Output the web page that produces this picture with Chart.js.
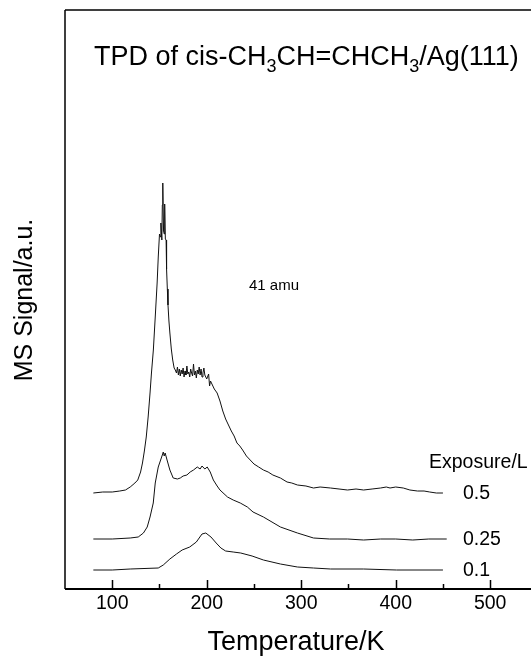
<!DOCTYPE html>
<html>
<head>
<meta charset="utf-8">
<script src="https://cdn.jsdelivr.net/npm/chart.js@4.4.0/dist/chart.umd.min.js"></script>
<style>
  html, body { margin: 0; padding: 0; background: #fff; overflow: hidden; }
  canvas { display: block; }
</style>
</head>
<body>
<canvas id="tpdChart" width="560" height="656"></canvas>
<script>
// temperatures (K) and MS signal (a.u.), one pair of arrays per exposure
const temp05 = [80, 90, 100, 108, 114, 119, 124, 127, 130, 132, 134, 136, 138, 140, 141.5, 143.5, 145.5, 147.5, 148.7, 150,
  151, 151.5, 152.5, 153, 153.5, 154.3, 155, 155.5, 156.2, 157, 157.5, 158.3, 159, 160, 161, 162.5, 164, 165.5, 166.7,
  168, 169, 170, 171, 172, 173, 174, 175, 176, 177, 178, 179, 180, 181, 182, 183, 184, 185, 186, 187, 188, 189, 190,
  191, 192, 193, 194, 195, 196, 197, 198, 200, 202, 203, 204, 206, 208, 211, 214, 217, 220, 223, 226, 229, 232, 235,
  238, 242, 246, 250, 255, 260, 265, 270, 278, 285, 290, 296, 305, 313, 320, 331, 340, 349, 358, 366, 375, 384, 390,
  394, 400, 408, 415, 423, 430, 436, 443, 450];
const sig05 = [96, 97, 97, 98, 99, 102, 106, 109, 117, 126, 138, 152, 172, 196, 216, 239, 272, 306, 332, 355,
  352, 366, 349, 384, 406, 358, 355, 385, 350, 349, 320, 300, 284, 268, 256, 240, 229, 221, 219,
  216, 222, 214, 220, 213, 219, 215, 221, 212, 218, 214, 223, 215, 217, 212, 220, 216, 213, 225, 214, 218, 211, 219,
  215, 222, 214, 220, 212, 216, 221, 214, 210, 215, 203, 208, 204, 200, 196, 188, 178, 170, 164, 158, 153, 146, 143,
  139, 133, 129, 125, 122, 119, 117, 114, 111, 107, 106, 104, 103, 101, 102, 101, 100, 99, 100, 99, 100, 101, 102,
  101, 102, 101, 99, 98, 98, 97, 96, 96];

const temp025 = [80, 100, 119, 127.5, 133, 137, 140, 143.4, 145.5, 148.7, 153, 154, 155, 156, 158, 161, 164.5, 169, 172,
  175, 179, 182.5, 186, 190, 193, 195, 198, 200.5, 203.7, 207, 211, 214, 222, 228, 235.5, 243, 249, 260, 278, 296,
  313, 330, 349, 366, 384, 400, 418, 435, 454];
const sig025 = [50, 50, 51, 52, 56, 62, 72, 86, 106, 122, 134, 137, 133, 136, 129, 119, 111, 110, 111,
  113, 114, 117, 119, 122, 120, 123, 120, 122, 117, 109, 103, 99, 92, 89, 86, 82, 77, 72, 62, 56,
  51, 50, 50, 49, 50, 50, 49, 50, 50];

const temp01 = [80, 100, 119, 148.7, 154, 161, 168, 174, 182, 189, 195, 199, 204.5, 210, 215, 220, 228, 236, 248,
  260, 278, 296, 313, 331, 366, 401, 450];
const sig01 = [19, 19, 20, 21, 24, 30, 35, 39, 42, 47, 55, 56, 52, 46, 41, 38, 37, 36, 33,
  29, 25, 22, 21, 20, 20, 19, 19];

const exposures = ["0.5", "0.25", "0.1"];
const majorTicks = [100, 200, 300, 400, 500];
const minorTicks = [150, 250, 350, 450];

const FONT = '"Liberation Sans", Arial, Helvetica, sans-serif';

const toPoints = (xs, ys) => xs.map((x, i) => ({ x: x, y: ys[i] }));
const seriesList = [toPoints(temp05, sig05), toPoints(temp025, sig025), toPoints(temp01, sig01)];

// frame, inward ticks and all the text, placed through the chart's own scales
const decorPlugin = {
  id: "decor",
  afterDraw(chart) {
    const ctx = chart.ctx;
    const area = chart.chartArea;
    const xs = chart.scales.x;
    const ys = chart.scales.y;

    ctx.save();
    ctx.strokeStyle = "#000";
    ctx.fillStyle = "#000";

    // axes frame (left, top, bottom; right edge falls outside the page)
    ctx.lineWidth = 1.5;
    ctx.beginPath();
    ctx.moveTo(area.left, area.top);
    ctx.lineTo(area.left, area.bottom);
    ctx.moveTo(area.left, area.top);
    ctx.lineTo(chart.width, area.top);
    ctx.stroke();
    ctx.lineWidth = 2;
    ctx.beginPath();
    ctx.moveTo(area.left, area.bottom);
    ctx.lineTo(chart.width, area.bottom);
    ctx.stroke();

    // ticks point into the plot
    ctx.lineWidth = 1.5;
    ctx.beginPath();
    majorTicks.forEach(v => {
      const px = Math.round(xs.getPixelForValue(v)) + 0.5;
      ctx.moveTo(px, area.bottom);
      ctx.lineTo(px, area.bottom - 9);
    });
    minorTicks.forEach(v => {
      const px = Math.round(xs.getPixelForValue(v)) + 0.5;
      ctx.moveTo(px, area.bottom);
      ctx.lineTo(px, area.bottom - 5);
    });
    ctx.stroke();

    ctx.font = "19.5px " + FONT;
    ctx.textAlign = "center";
    ctx.textBaseline = "middle";
    majorTicks.forEach(v => {
      ctx.fillText(String(v), xs.getPixelForValue(v), area.bottom + 15);
    });

    // axis titles
    ctx.font = "27px " + FONT;
    ctx.fillText("Temperature/K", 296, 643);
    ctx.save();
    ctx.translate(25, 300);
    ctx.rotate(-Math.PI / 2);
    ctx.font = "25px " + FONT;
    ctx.fillText("MS Signal/a.u.", 0, 0);
    ctx.restore();

    // title with subscripts
    const parts = [
      ["TPD of cis-CH", false], ["3", true], ["CH=CHCH", false], ["3", true], ["/Ag(111)", false]
    ];
    let tx = 94;
    const tBase = 65;
    ctx.textAlign = "left";
    ctx.textBaseline = "alphabetic";
    parts.forEach(([txt, sub]) => {
      ctx.font = (sub ? "18px " : "27px ") + FONT;
      ctx.fillText(txt, tx, sub ? tBase + 7 : tBase);
      tx += ctx.measureText(txt).width;
    });

    // mass label
    ctx.font = "15px " + FONT;
    ctx.fillText("41 amu", 249, 290);

    // exposure labels beside the tails of the curves
    ctx.font = "19.5px " + FONT;
    ctx.textBaseline = "middle";
    ctx.fillText("Exposure/L", 429, 463);
    seriesList.forEach((pts, i) => {
      const last = pts[pts.length - 1];
      ctx.fillText(exposures[i], 463, ys.getPixelForValue(last.y) + 1);
    });

    ctx.restore();
  }
};

const ctx = document.getElementById("tpdChart").getContext("2d");
new Chart(ctx, {
  type: "line",
  data: {
    datasets: seriesList.map((pts, i) => ({
      label: exposures[i] + " L",
      data: pts,
      borderColor: "#111",
      borderWidth: 1,
      pointRadius: 0,
      tension: 0,
      fill: false
    }))
  },
  options: {
    responsive: false,
    animation: false,
    layout: { padding: { left: 65, top: 10, right: 15, bottom: 67 } },
    plugins: {
      legend: { display: false },
      tooltip: { enabled: false },
      title: { display: false }
    },
    scales: {
      x: { type: "linear", min: 50, max: 558, display: false },
      y: { type: "linear", min: 0, max: 579, display: false }
    }
  },
  plugins: [decorPlugin]
});
</script>
</body>
</html>
